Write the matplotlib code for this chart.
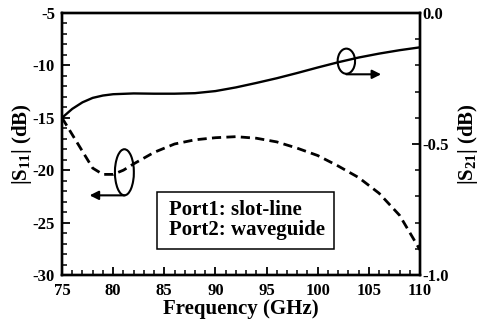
import matplotlib
matplotlib.use("Agg")
import matplotlib.pyplot as plt
from matplotlib.patches import Arc, Rectangle
from matplotlib.ticker import MultipleLocator, FixedLocator

plt.rcParams['font.family'] = ['Liberation Serif', 'DejaVu Serif']
plt.rcParams['font.weight'] = 'bold'
plt.rcParams['mathtext.fontset'] = 'custom'
plt.rcParams['mathtext.bf'] = 'Liberation Serif:bold'
plt.rcParams['mathtext.rm'] = 'Liberation Serif:bold'
plt.rcParams['mathtext.default'] = 'bf'

# |S11| (left axis, dashed)
freq_s11 = [75, 76, 77, 78, 79, 80, 81, 82, 84, 86, 88, 90, 92, 94, 96, 98,
            100, 102, 104, 106, 108, 110]
s11_db = [-15.0, -16.6, -18.2, -19.8, -20.4, -20.4, -20.0, -19.4, -18.3, -17.5,
          -17.1, -16.9, -16.8, -16.95, -17.3, -17.9, -18.6, -19.6, -20.7,
          -22.2, -24.3, -27.6]

# |S21| (right axis, solid)
freq_s21 = [75, 76, 77, 78, 79, 80, 82, 84, 86, 88, 90, 92, 94, 96, 98, 100,
            102, 104, 106, 108, 110]
s21_db = [-0.400, -0.366, -0.341, -0.324, -0.315, -0.310, -0.307, -0.308,
          -0.308, -0.306, -0.298, -0.284, -0.267, -0.249, -0.229, -0.208,
          -0.188, -0.170, -0.155, -0.142, -0.131]

x_ticks = [75, 80, 85, 90, 95, 100, 105, 110]
left_ticks = [-30, -25, -20, -15, -10, -5]
right_ticks = [-1.0, -0.5, 0.0]

fig = plt.figure(figsize=(4.79, 3.22), dpi=100)
ax = fig.add_axes([62/479, 1-275/322, (420-62)/479, (275-13)/322])
ax2 = ax.twinx()

ax.plot(freq_s11, s11_db, color='black', lw=2.0, ls=(0, (3.3, 1.9)),
        dash_capstyle='butt')
ax2.plot(freq_s21, s21_db, color='black', lw=1.7)

ax.set_xlim(75, 110)
ax.set_ylim(-30, -5)
ax2.set_ylim(-1.0, 0.0)

ax.xaxis.set_major_locator(FixedLocator(x_ticks))
ax.xaxis.set_minor_locator(MultipleLocator(1))
ax.yaxis.set_major_locator(FixedLocator(left_ticks))
ax.yaxis.set_minor_locator(MultipleLocator(1))
ax2.yaxis.set_major_locator(FixedLocator(right_ticks))
ax2.yaxis.set_minor_locator(MultipleLocator(0.1))

ax.set_xticklabels([str(v) for v in x_ticks])
ax.set_yticklabels([str(v) for v in left_ticks])
ax2.set_yticklabels(['%.1f' % v for v in right_ticks])

fs = 12
ax.tick_params(axis='x', which='both', direction='in', top=False,
               labelsize=fs, pad=6)
ax.tick_params(axis='y', which='both', direction='in', right=False,
               labelsize=fs, pad=5)
ax2.tick_params(axis='y', which='both', direction='in', left=False,
                labelsize=fs, pad=2)
for a in (ax, ax2):
    a.tick_params(which='major', length=6, width=1.3)
    a.tick_params(which='minor', length=3.5, width=1.1)
    for s in a.spines.values():
        s.set_linewidth(1.7)

ax.set_xlabel('Frequency (GHz)', fontsize=15, fontweight='bold', labelpad=0)
ax.set_ylabel(r'|S$_{11}$| (dB)', fontsize=15, fontweight='bold', labelpad=-1)
ax2.set_ylabel(r'|S$_{21}$| (dB)', fontsize=15, fontweight='bold', labelpad=5)

# curl markers pointing to each curve's axis
ax.add_patch(Arc((102.8, -9.6), 1.7, 2.4, lw=1.5, color='black'))
ax.annotate('', xy=(106.2, -10.85), xytext=(102.8, -10.85),
            arrowprops=dict(arrowstyle='-|>', color='black', lw=1.5,
                            mutation_scale=13, shrinkA=0, shrinkB=0))
ax.add_patch(Arc((81.1, -20.2), 1.85, 4.4, lw=1.5, color='black'))
ax.annotate('', xy=(77.7, -22.4), xytext=(81.1, -22.4),
            arrowprops=dict(arrowstyle='-|>', color='black', lw=1.5,
                            mutation_scale=13, shrinkA=0, shrinkB=0))

# port description box
ax.add_patch(Rectangle((0.265, 0.099), 0.495, 0.218, transform=ax.transAxes,
                       fc='white', ec='black', lw=1.1, zorder=3))
ax.text(0.300, 0.248, 'Port1: slot-line', transform=ax.transAxes,
        fontsize=15, fontweight='bold', ha='left', va='center', zorder=4)
ax.text(0.300, 0.170, 'Port2: waveguide', transform=ax.transAxes,
        fontsize=15, fontweight='bold', ha='left', va='center', zorder=4)

fig.savefig('out.png', dpi=100)
